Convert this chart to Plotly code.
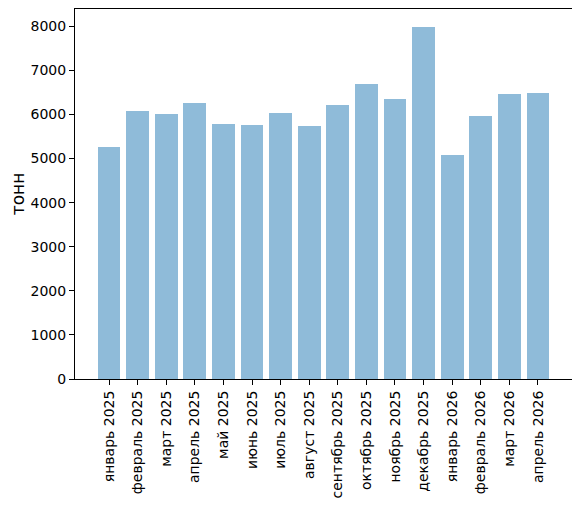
import plotly.graph_objects as go

months = ["январь 2025", "февраль 2025", "март 2025", "апрель 2025", "май 2025",
          "июнь 2025", "июль 2025", "август 2025", "сентябрь 2025", "октябрь 2025",
          "ноябрь 2025", "декабрь 2025", "январь 2026", "февраль 2026", "март 2026",
          "апрель 2026"]
tonnes = [5257, 6075, 6007, 6257, 5780, 5757, 6030, 5734, 6211, 6689,
          6348, 7984, 5075, 5961, 6461, 6484]
y_ticks = [0, 1000, 2000, 3000, 4000, 5000, 6000, 7000, 8000]

positions = list(range(len(months)))

fig = go.Figure(go.Bar(x=positions, y=tonnes, width=0.8,
                       marker=dict(color="rgba(31,119,180,0.5)", line=dict(width=0))))

# page body has an 8px margin, so the figure is drawn 8px smaller and shifted
fig.update_layout(
    width=572, height=498,
    margin=dict(l=67, r=8, t=1, b=127, autoexpand=False),
    plot_bgcolor="white", paper_bgcolor="white",
    font=dict(family="DejaVu Sans", size=14, color="black"),
    showlegend=False,
    bargap=0,
)
fig.update_xaxes(
    range=[-1.19, 16.19], tickvals=positions, ticktext=months, tickangle=-90,
    showline=True, mirror=True, linecolor="black", linewidth=1, automargin=False,
    ticks="outside", ticklen=5, tickcolor="black", showgrid=False, zeroline=False,
)
fig.update_yaxes(
    range=[0, 8392], tickvals=y_ticks, automargin=False,
    showline=True, mirror=True, linecolor="black", linewidth=1,
    ticks="outside", ticklen=5, tickcolor="black", showgrid=False, zeroline=False,
    title=dict(text="тонн", standoff=8),
)

fig.write_html("out.html")
